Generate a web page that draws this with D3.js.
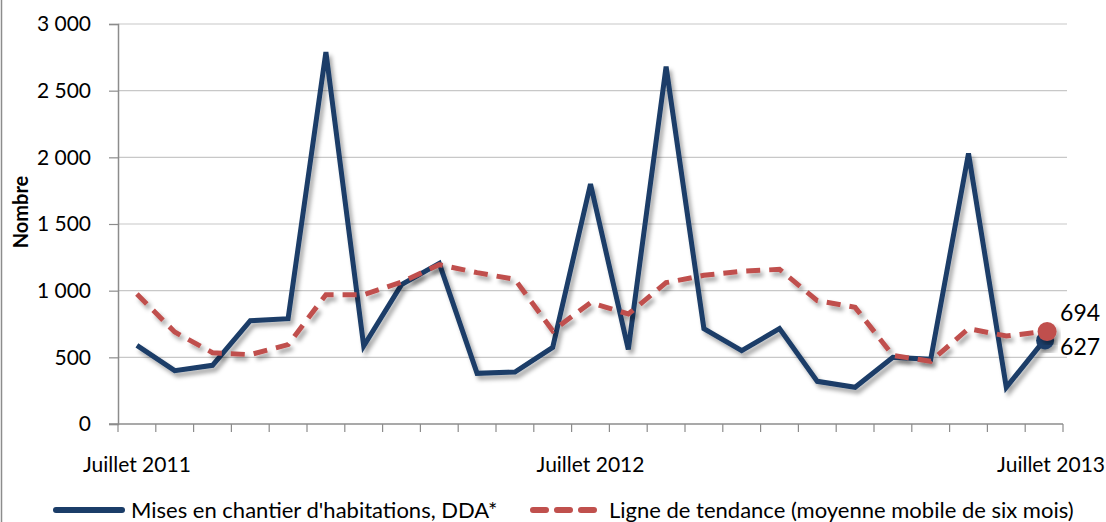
<!DOCTYPE html>
<html>
<head>
<meta charset="utf-8">
<script src="https://cdn.jsdelivr.net/npm/d3@7"></script>
<style>
  body { margin: 0; background: #fff; }
  text { font-family: Lato, "Open Sans", sans-serif; fill: #000; }
</style>
</head>
<body>
<div id="chart"></div>
<script>
// monthly data, Juillet 2011 -> Juillet 2013
var months = d3.range(25);
var xLabels = [{i: 0, t: 'Juillet 2011'}, {i: 12, t: 'Juillet 2012'}, {i: 24, t: 'Juillet 2013'}];
var mises = [590, 400, 440, 775, 790, 2790, 585, 1045, 1205, 380, 390, 575, 1800,
             560, 2680, 715, 550, 715, 320, 275, 500, 485, 2030, 275, 627];
var tendance = [975, 690, 535, 520, 595, 970, 970, 1065, 1195, 1135, 1085, 700, 910,
                825, 1060, 1115, 1145, 1160, 925, 875, 515, 470, 715, 660, 694];
var yTicks = [0, 500, 1000, 1500, 2000, 2500, 3000];

var width = 1106, height = 522;
var margin = {left: 118, right: 43, top: 24, bottom: 98};
var blue = '#1b3d68', red = '#c0504d';

var svg = d3.select('#chart').append('svg')
  .attr('width', width)
  .attr('height', height);

var defs = svg.append('defs');
var f = defs.append('filter').attr('id', 'shadow')
  .attr('x', '-10%').attr('y', '-10%').attr('width', '130%').attr('height', '130%');
f.append('feDropShadow')
  .attr('dx', 3).attr('dy', 4).attr('stdDeviation', 2)
  .attr('flood-color', '#000').attr('flood-opacity', 0.35);

// left frame border
svg.append('line')
  .attr('x1', 1.5).attr('x2', 1.5).attr('y1', 0).attr('y2', height)
  .attr('stroke', '#8c8c8c').attr('stroke-width', 1.5);

var x = d3.scaleBand()
  .domain(months)
  .range([margin.left, width - margin.right]);

var y = d3.scaleLinear()
  .domain([0, 3000])
  .range([height - margin.bottom, margin.top]);

var cx = function(i) { return x(i) + x.bandwidth() / 2; };

// gridlines
svg.append('g')
  .selectAll('line')
  .data(yTicks.filter(function(d) { return d > 0; }))
  .enter().append('line')
    .attr('x1', margin.left).attr('x2', width - margin.right + 4)
    .attr('y1', function(d) { return y(d); })
    .attr('y2', function(d) { return y(d); })
    .attr('stroke', '#c8c8c8').attr('stroke-width', 1.2);

// y axis
var yAxis = svg.append('g')
  .attr('transform', 'translate(' + margin.left + ',0)')
  .call(d3.axisLeft(y).tickValues(yTicks).tickSize(9).tickPadding(18)
    .tickFormat(function(d) { return d >= 1000 ? d3.format(',')(d).replace(',', ' ') : d; }));
yAxis.select('.domain').attr('stroke', '#8c8c8c').attr('stroke-width', 1.5);
yAxis.selectAll('.tick line').attr('stroke', '#8c8c8c').attr('stroke-width', 1.2);
yAxis.selectAll('.tick text').style('font-size', '21px').style('font-family', 'Lato, sans-serif');

// x axis (ticks between categories)
var xg = svg.append('g')
  .attr('transform', 'translate(0,' + y(0) + ')');
xg.append('line')
  .attr('x1', margin.left - 9).attr('x2', width - margin.right)
  .attr('stroke', '#8c8c8c').attr('stroke-width', 1.5);
xg.selectAll('line.tk')
  .data(months.concat([25]))
  .enter().append('line')
    .attr('class', 'tk')
    .attr('x1', function(d) { return d < 25 ? x(d) : x.range()[1]; })
    .attr('x2', function(d) { return d < 25 ? x(d) : x.range()[1]; })
    .attr('y1', 0).attr('y2', 8)
    .attr('stroke', '#8c8c8c').attr('stroke-width', 1.2);

svg.append('g').selectAll('text')
  .data(xLabels)
  .enter().append('text')
    .attr('x', function(d) { return d.i === 24 ? width - 1 : cx(d.i); })
    .attr('y', 472)
    .attr('text-anchor', function(d) { return d.i === 24 ? 'end' : 'middle'; })
    .style('font-size', '21px')
    .text(function(d) { return d.t; });

// y title
svg.append('text')
  .attr('transform', 'translate(28,' + (y(1500) - 12) + ') rotate(-90)')
  .attr('text-anchor', 'middle')
  .style('font-size', '20px').style('font-weight', 'bold')
  .text('Nombre');

// lines
var line = d3.line()
  .x(function(d, i) { return cx(i); })
  .y(function(d) { return y(d); });

svg.append('path')
  .datum(mises)
  .attr('d', line)
  .attr('fill', 'none')
  .attr('stroke', blue).attr('stroke-width', 5)
  .attr('stroke-linejoin', 'miter')
  .attr('filter', 'url(#shadow)');

svg.append('path')
  .datum(tendance)
  .attr('d', line)
  .attr('fill', 'none')
  .attr('stroke', red).attr('stroke-width', 5)
  .attr('stroke-dasharray', '14,9')
  .attr('filter', 'url(#shadow)');

// end markers
var last = mises.length - 1;
svg.append('circle')
  .attr('cx', cx(last) + 1).attr('cy', y(mises[last]))
  .attr('r', 9).attr('fill', blue).attr('filter', 'url(#shadow)');
svg.append('circle')
  .attr('cx', cx(last) + 3).attr('cy', y(tendance[last]))
  .attr('r', 9.5).attr('fill', red).attr('filter', 'url(#shadow)');

svg.append('text')
  .attr('x', cx(last) + 16).attr('y', y(tendance[last]) - 10)
  .style('font-size', '23px')
  .text(tendance[last]);
svg.append('text')
  .attr('x', cx(last) + 16).attr('y', y(mises[last]) + 15)
  .style('font-size', '23px')
  .text(mises[last]);

// legend
var lg = svg.append('g').attr('transform', 'translate(0,510)');
lg.append('line')
  .attr('x1', 56).attr('x2', 122)
  .attr('stroke', blue).attr('stroke-width', 6).attr('stroke-linecap', 'round');
lg.append('text').attr('x', 131).attr('y', 8).style('font-size', '22px')
  .text("Mises en chantier d'habitations, DDA*");
lg.append('line')
  .attr('x1', 533).attr('x2', 597)
  .attr('stroke', red).attr('stroke-width', 6).attr('stroke-linecap', 'round')
  .attr('stroke-dasharray', '13,11');
lg.append('text').attr('x', 609).attr('y', 8).style('font-size', '22px')
  .text('Ligne de tendance  (moyenne mobile de six mois)');
</script>
</body>
</html>
